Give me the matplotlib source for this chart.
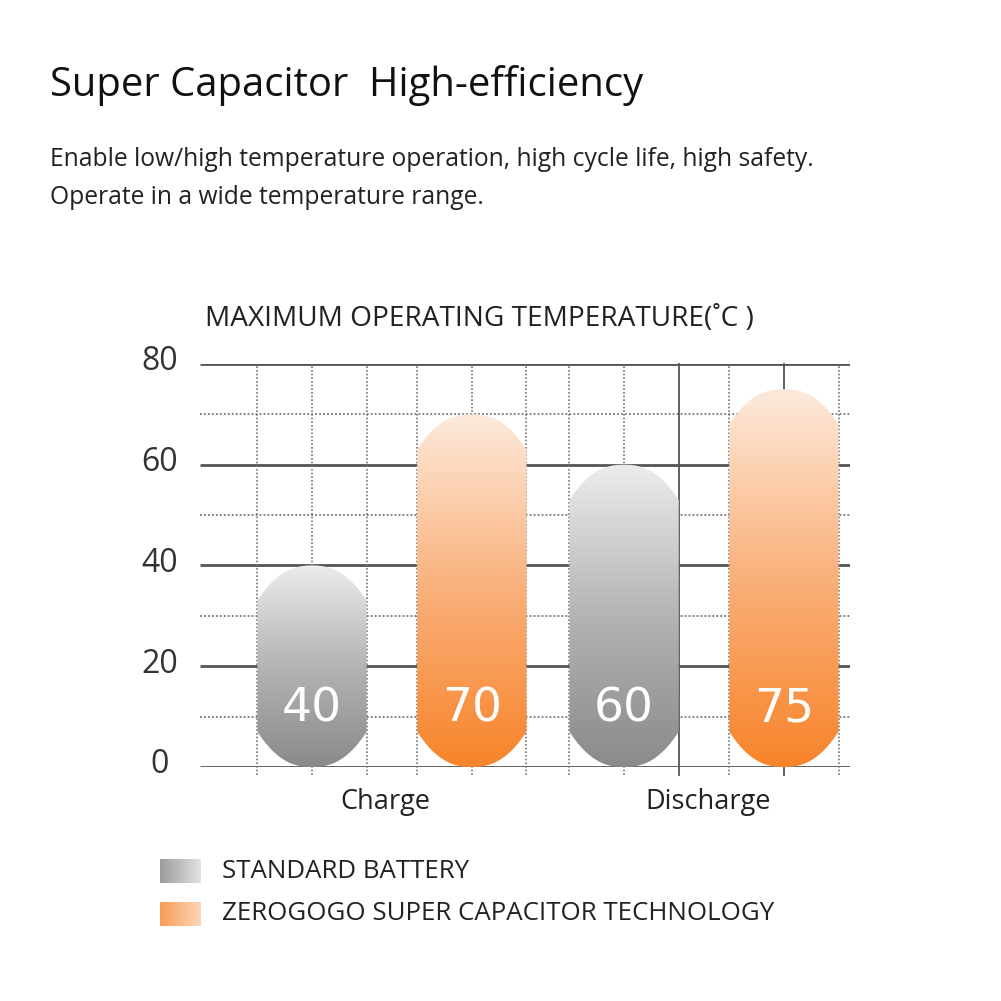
"""Recreation of the 'Super Capacitor High-efficiency' temperature bar chart."""

import numpy as np
import matplotlib

matplotlib.use("Agg")
import matplotlib.pyplot as plt
import matplotlib.transforms as mtransforms
from matplotlib.colors import LinearSegmentedColormap
from matplotlib.patches import PathPatch
from matplotlib.path import Path

plt.rcParams["font.family"] = ["Open Sans", "DejaVu Sans"]

# data
groups = ["Charge", "Discharge"]
series = ["STANDARD BATTERY", "ZEROGOGO SUPER CAPACITOR TECHNOLOGY"]
standard = [40, 60]
supercap = [70, 75]
yticks = [0, 20, 40, 60, 80]
yminor = [10, 30, 50, 70]

GRAY = LinearSegmentedColormap.from_list("gray", ["#8a8a8a", "#b4b4b4", "#ececec"])
ORANGE = LinearSegmentedColormap.from_list("orange", ["#f7842a", "#fab07a", "#fdeadb"])

fig = plt.figure(figsize=(10.01, 10.01), dpi=100)
ax = fig.add_axes([0.1998, 0.2338, 0.6494, 0.4026])
xlim = (-0.615, 1.468)
ax.set_xlim(*xlim)
ax.set_ylim(0, 80)
for s in ax.spines.values():
    s.set_visible(False)

OFFSET, WIDTH = 0.256, 0.35
SAG = 7.0  # cap height in y units
EXP = 2.4  # shape of the arched caps


def capsule(xc, top):
    """Bar outline with arched top and bottom, in data coords."""
    u = np.linspace(-1, 1, 81)
    arc = SAG * (1 - np.abs(u) ** EXP)  # SAG at centre, 0 at edges
    xs = xc + u * WIDTH / 2
    top_y = top - SAG + arc
    bot_y = SAG - arc
    verts = list(zip(xs, top_y)) + list(zip(xs[::-1], bot_y[::-1]))
    verts.append(verts[0])
    return Path(verts, closed=True)


# grid
for y in yticks:
    ax.plot(xlim, [y, y], color="#555555", lw=2.0, zorder=1, solid_capstyle="butt")
for y in yminor:
    ax.plot(xlim, [y, y], color="#777777", lw=1.3, ls=(0, (1, 1.2)), zorder=1)

centres = []
for g in range(len(groups)):
    centres += [g - OFFSET, g + OFFSET]
for i, xc in enumerate(centres):
    for j, x in enumerate((xc - WIDTH / 2, xc, xc + WIDTH / 2)):
        solid = (i == 2 and j == 2) or (i == 3 and j == 1)
        ax.plot([x, x], [-1.5, 80], color="#555555" if solid else "#777777",
                lw=1.3 if solid else 1.2, ls="-" if solid else (0, (1, 1.2)),
                zorder=1, clip_on=False)

# bars
grad = np.linspace(0, 1, 256).reshape(-1, 1)
values = []
for g in range(len(groups)):
    values += [(standard[g], GRAY), (supercap[g], ORANGE)]
for xc, (v, cmap) in zip(centres, values):
    patch = PathPatch(capsule(xc, v), facecolor="none", edgecolor="none", zorder=2)
    ax.add_patch(patch)
    im = ax.imshow(grad, cmap=cmap, origin="lower", aspect="auto", zorder=2,
                   extent=[xc - WIDTH / 2, xc + WIDTH / 2, 0, v])
    im.set_clip_path(patch)
    ax.text(xc, 11.5, str(v), color="white", fontsize=34, ha="center",
            va="center", family=["DejaVu Sans"], zorder=3)

ax.set_xlim(*xlim)
ax.set_ylim(0, 80)

# ticks
ax.set_xticks(range(len(groups)))
ax.set_xticklabels(groups, fontsize=19.5, color="#222222")
ax.tick_params(axis="x", length=0, pad=15)
for lab, dx in zip(ax.get_xticklabels(), (-7, 4)):
    lab.set_transform(lab.get_transform()
                      + mtransforms.ScaledTranslation(dx / 100, 0, fig.dpi_scale_trans))
ax.set_yticks(yticks)
ax.set_yticklabels([str(t) for t in yticks], fontsize=23, color="#333333", ha="center")
ax.tick_params(axis="y", length=0, pad=29)
lift = mtransforms.ScaledTranslation(0, 6 / 100, fig.dpi_scale_trans)
for lab in ax.get_yticklabels():
    lab.set_transform(lab.get_transform() + lift)

# texts
fig.text(0.05, 1 - 85 / 1001, "Super Capacitor  High-efficiency", fontsize=28.8,
         color="#111111", va="center")
fig.text(0.05, 1 - 160 / 1001,
         "Enable low/high temperature operation, high cycle life, high safety.",
         fontsize=17.7, color="#222222", va="center")
fig.text(0.05, 1 - 198 / 1001, "Operate in a wide temperature range.",
         fontsize=17.7, color="#222222", va="center")
fig.text(0.205, 1 - 319 / 1001, "MAXIMUM OPERATING TEMPERATURE(˚C )",
         fontsize=20.2, color="#222222", va="center")

# legend
hgrad = np.linspace(0, 1, 256).reshape(1, -1)
legend_cmaps = [
    LinearSegmentedColormap.from_list("lg", ["#9c9c9c", "#e2e2e2"]),
    LinearSegmentedColormap.from_list("lo", ["#f99d55", "#fdd7b8"]),
]
for k, (label, cm) in enumerate(zip(series, legend_cmaps)):
    yc = [871, 914][k]
    sw = fig.add_axes([160 / 1001, 1 - (yc + 12) / 1001, 41 / 1001, 24 / 1001])
    sw.imshow(hgrad, cmap=cm, aspect="auto")
    sw.set_axis_off()
    fig.text(222 / 1001, 1 - yc / 1001, label, fontsize=18.6, color="#222222",
             va="center")

fig.savefig("out.png", dpi=100)
